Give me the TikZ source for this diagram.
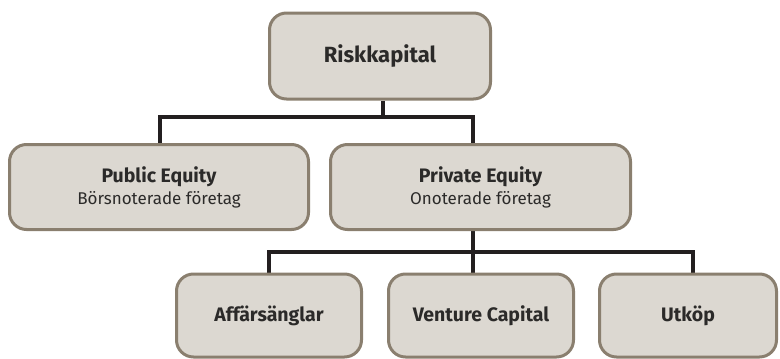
\documentclass[tikz,border=0pt]{standalone}
\usepackage{fontspec}
\setmainfont{Fira Sans}
\usetikzlibrary{backgrounds}
\definecolor{boxfill}{HTML}{DCD8D1}
\definecolor{boxline}{HTML}{8A7F6F}
\definecolor{linec}{HTML}{231F20}
\definecolor{txt}{HTML}{2B2A29}
\begin{document}
\begin{tikzpicture}[x=1pt,y=-1pt,
  box/.style={draw=boxline, fill=boxfill, line width=3pt, rounded corners=17pt,
    inner sep=0pt, align=center, text=txt, font=\fontsize{19.5}{22}\selectfont},
  conn/.style={draw=linec, line width=4pt}]
\useasboundingbox (0,0) rectangle (780,359);
\node[box, minimum width=221, minimum height=86] (rk) at (380,56) {\fontsize{22}{24}\selectfont\bfseries Riskkapital};
\node[box, minimum width=299, minimum height=85] (pub) at (159,187)
  {{\bfseries Public Equity}\\[0pt]{\fontsize{17}{20}\selectfont Börsnoterade företag}};
\node[box, minimum width=300, minimum height=85] (pe) at (480.5,187)
  {{\bfseries Private Equity}\\[0pt]{\fontsize{17}{20}\selectfont Onoterade företag}};
\node[box, minimum width=185, minimum height=83] (aff) at (269,315.5) {\bfseries Affärsänglar};
\node[box, minimum width=185, minimum height=83] (vc) at (481,315.5) {\bfseries Venture Capital};
\node[box, minimum width=177, minimum height=83] (ut) at (688,315.5) {\bfseries Utköp};
\coordinate (j1) at (383,117);
\coordinate (a1) at (160,117);
\coordinate (a2) at (473,117);
\coordinate (b0) at (473,252);
\coordinate (b1) at (269,252);
\coordinate (b3) at (693,252);
\begin{scope}[on background layer]
\draw[conn] (rk.south -| j1) -- (j1);
\draw[conn] (pub.north -| a1) -- (a1) -- (a2) -- (pe.north -| a2);
\draw[conn] (pe.south -| b0) -- (vc.north -| b0);
\draw[conn] (aff.north -| b1) -- (b1) -- (b3) -- (ut.north -| b3);
\end{scope}
\end{tikzpicture}
\end{document}
